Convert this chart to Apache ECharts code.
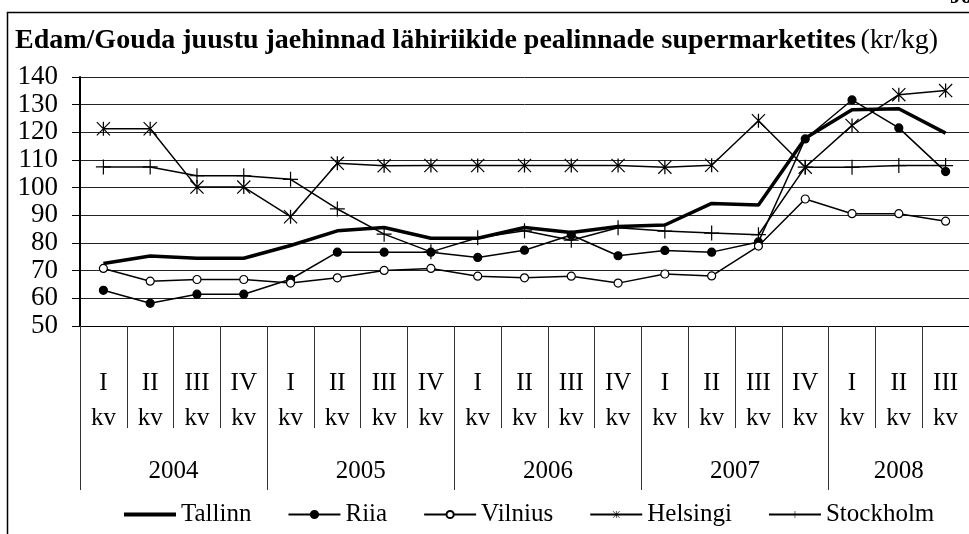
<!DOCTYPE html>
<html>
<head>
<meta charset="utf-8">
<script src="https://cdn.jsdelivr.net/npm/echarts@6/dist/echarts.min.js"></script>
<style>
  html, body { margin: 0; padding: 0; background: #fff; }
  #chart { width: 969px; height: 534px; }
</style>
</head>
<body>
<div id="chart"></div>
<script>
// kvartalid ja aastad
var years = ['2004', '2005', '2006', '2007', '2008'];
var quartersPerYear = [4, 4, 4, 4, 3];
var quarterNames = ['I', 'II', 'III', 'IV'];

// hinnad kr/kg
var tallinn = [72.6, 75.3, 74.5, 74.5, 79.1, 84.4, 85.6, 81.7, 81.7, 85.6, 83.8, 86, 86.5, 94.3, 93.7, 117.9, 128.2, 128.5, 119.7];
var riia = [62.9, 58.2, 61.5, 61.5, 66.9, 76.7, 76.7, 76.7, 74.8, 77.4, 82.9, 75.4, 77.3, 76.7, 80.4, 117.6, 131.7, 121.6, 105.8];
var vilnius = [70.8, 66.2, 66.8, 66.8, 65.5, 67.4, 70.1, 70.8, 68, 67.4, 68, 65.5, 68.8, 68.1, 78.9, 95.9, 90.6, 90.6, 87.9];
var helsingi = [121.3, 121.3, 100.2, 100.2, 89.5, 108.8, 107.9, 108, 108, 108, 108, 108, 107.4, 108.1, 124.2, 107.4, 122.5, 133.6, 135.1];
var stockholm = [107.5, 107.5, 104.3, 104.3, 103, 92.3, 83.2, 76.8, 81.9, 84.4, 81, 85.5, 84.3, 83.6, 83, 107.4, 107.4, 108, 108];

var categories = [];
var yearTicks = [];
var yearCenters = [];
var pos = 0;
years.forEach(function (y, i) {
  yearTicks.push(pos);
  yearCenters.push(pos + quartersPerYear[i] / 2);
  for (var q = 0; q < quartersPerYear[i]; q++) {
    categories.push(quarterNames[q] + '\nkv');
  }
  pos += quartersPerYear[i];
});

var FONT = '"Liberation Serif", "Times New Roman", serif';

// tärnikujuline marker (Helsingi) ja rist (Stockholm)
var starPath = 'path://M9.1 0 L10.9 0 L10.9 20 L9.1 20 Z M0 1.2 L1.2 0 L20 18.8 L18.8 20 Z M18.8 0 L20 1.2 L1.2 20 L0 18.8 Z';
var plusPath = 'path://M9.2 0 L10.8 0 L10.8 20 L9.2 20 Z M0 9.2 L20 9.2 L20 10.8 L0 10.8 Z';

var chart = echarts.init(document.getElementById('chart'));

function line(name, data, width, symbol, size, fill) {
  return {
    name: name,
    type: 'line',
    data: data,
    symbol: symbol,
    symbolSize: size,
    showSymbol: symbol !== 'none',
    animation: false,
    lineStyle: { color: '#000', width: width },
    itemStyle: { color: fill, borderColor: '#000', borderWidth: symbol === 'circle' ? 1.2 : 0 }
  };
}

chart.setOption({
  backgroundColor: '#fff',
  textStyle: { fontFamily: FONT, color: '#000' },
  title: {
    left: 10,
    top: 22,
    text: '{b|Edam/Gouda juustu jaehinnad lähiriikide pealinnade supermarketites} {n|(kr/kg)}',
    textStyle: {
      rich: {
        b: { fontFamily: FONT, fontWeight: 'bold', fontSize: 28, color: '#000' },
        n: { fontFamily: FONT, fontWeight: 'normal', fontSize: 28, color: '#000' }
      }
    }
  },
  graphic: [
    {
      type: 'rect',
      shape: { x: 7.5, y: 12.5, width: 1000, height: 600 },
      style: { fill: 'none', stroke: '#000', lineWidth: 1.5 }
    },
    {
      type: 'text',
      left: 950,
      top: -14,
      style: { text: 'Joonis', font: 'bold 22px ' + FONT, fill: '#000' }
    }
  ],
  legend: {
    bottom: 2,
    left: 117,
    itemWidth: 52,
    itemHeight: 9,
    itemGap: 36,
    textStyle: { fontFamily: FONT, fontSize: 25, color: '#000' },
    data: [
      { name: 'Tallinn', itemStyle: { opacity: 0 }, lineStyle: { width: 4 } },
      'Riia', 'Vilnius', 'Helsingi', 'Stockholm'
    ]
  },
  grid: { left: 80, top: 77, width: 901, height: 249, containLabel: false },
  xAxis: [
    {
      type: 'category',
      data: categories,
      boundaryGap: true,
      axisLine: { lineStyle: { color: '#000', width: 1 } },
      axisTick: { show: true, length: 102, lineStyle: { color: '#333', width: 1 } },
      axisLabel: {
        interval: 0,
        margin: 40,
        fontFamily: FONT,
        fontSize: 25,
        lineHeight: 35,
        color: '#000'
      }
    },
    {
      type: 'value',
      min: 0,
      max: categories.length,
      position: 'bottom',
      axisLine: { show: false },
      splitLine: { show: false },
      axisTick: { show: true, customValues: yearTicks, length: 164, lineStyle: { color: '#333', width: 1 } },
      axisLabel: {
        customValues: yearCenters,
        margin: 133,
        fontFamily: FONT,
        fontSize: 25,
        color: '#000',
        formatter: function (v) {
          var i = yearCenters.indexOf(v);
          return i >= 0 ? years[i] : '';
        }
      }
    }
  ],
  yAxis: {
    type: 'value',
    min: 50,
    max: 140,
    interval: 10,
    axisLine: { show: true, lineStyle: { color: '#000', width: 2 } },
    axisTick: { show: true, length: 8, lineStyle: { color: '#000' } },
    splitLine: { lineStyle: { color: '#222', width: 1 } },
    axisLabel: { margin: 22, fontFamily: FONT, fontSize: 27, color: '#000' }
  },
  series: [
    line('Tallinn', tallinn, 3.5, 'none', 0, '#000'),
    line('Riia', riia, 1.5, 'circle', 8, '#000'),
    line('Vilnius', vilnius, 1.5, 'circle', 8, '#fff'),
    line('Helsingi', helsingi, 1.5, starPath, 14, '#000'),
    line('Stockholm', stockholm, 1.5, plusPath, 15, '#000')
  ]
});
</script>
</body>
</html>
